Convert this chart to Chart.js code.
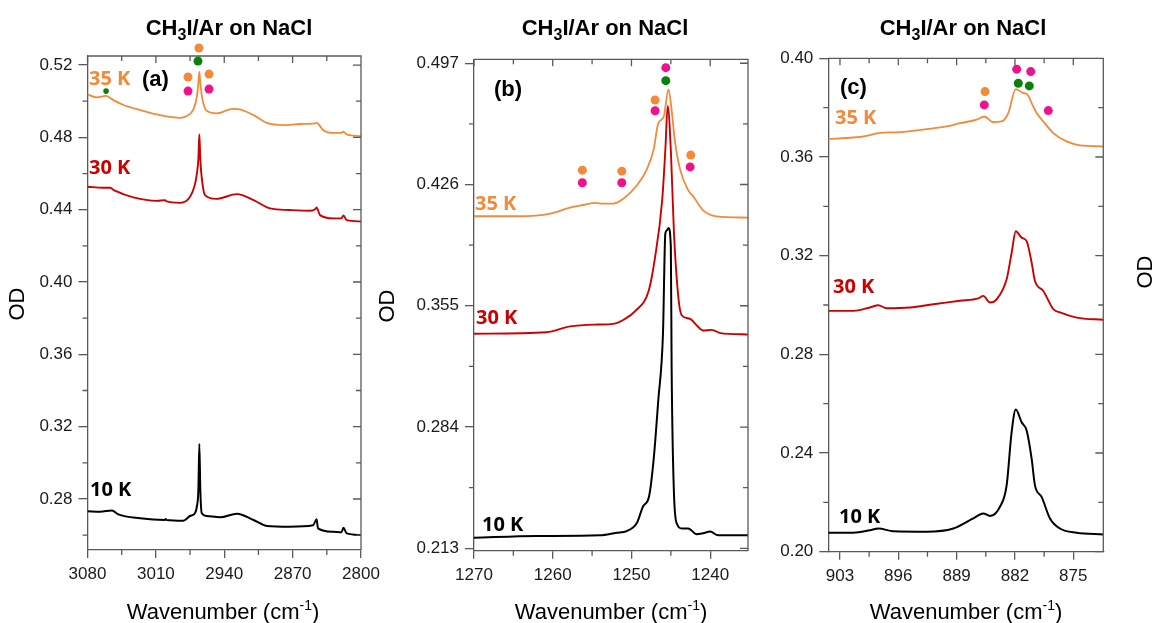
<!DOCTYPE html>
<html><head><meta charset="utf-8">
<script src="https://cdn.jsdelivr.net/npm/chart.js@4.4.1/dist/chart.umd.min.js"></script>
<style>html,body{margin:0;padding:0;background:#fff;width:1157px;height:623px;overflow:hidden}canvas{position:absolute;left:0;top:0}</style>
</head><body>
<script>
// ---------- Panel (a): 3080-2800 cm-1 ----------
const a_xTicks = [3080, 3010, 2940, 2870, 2800];
const a_xMinor = [3045, 2975, 2905, 2835];
const a_yTicks = [0.28, 0.32, 0.36, 0.40, 0.44, 0.48, 0.52];
const a_yMinor = [0.26, 0.30, 0.34, 0.38, 0.42, 0.46, 0.50];
const a35_x = [3080,3070.6,3061,3053.6,3043,3026,3006,2985,2978.5,2972,2968,2966.5,2965.5,2964.5,2962.8,2958.7,2948,2931,2924,2910,2896.5,2879.6,2862.5,2847,2845.5,2838.6,2828.5,2820,2818,2814.6,2800];
const a35_y = [0.5038,0.5021,0.5029,0.5006,0.4979,0.4951,0.4923,0.4908,0.4918,0.4951,0.5025,0.5100,0.5163,0.5100,0.5025,0.4951,0.4933,0.4958,0.4955,0.4923,0.4880,0.4868,0.4874,0.4877,0.4880,0.4840,0.4825,0.4825,0.4831,0.4817,0.4807];
const a30_x = [3080,3064,3057,3052,3033,3009,3000.5,2999.5,2985,2975,2970,2968,2966.5,2965.5,2964.5,2963.5,2961,2959.7,2948,2927,2910,2893,2873,2852,2847,2845.5,2842,2828.5,2820,2818,2814.6,2800];
const a30_y = [0.4527,0.4521,0.4521,0.4505,0.4468,0.4449,0.4453,0.4447,0.4438,0.4471,0.4540,0.4601,0.4680,0.4817,0.4680,0.4601,0.4500,0.4481,0.4460,0.4486,0.4453,0.4407,0.4398,0.4394,0.4402,0.4413,0.4370,0.4352,0.4352,0.4368,0.4342,0.4335];
const a10_x = [3080,3067,3055,3048.5,3026,3001,3000,2999,2982,2975,2970,2968,2966.5,2965.5,2964.5,2963,2958,2944,2927,2910,2896.5,2873,2849,2845.5,2844,2828.5,2820,2818,2814.6,2800];
const a10_y = [0.2732,0.2730,0.2737,0.2715,0.2693,0.2684,0.2690,0.2684,0.2680,0.2706,0.2721,0.2760,0.2850,0.3104,0.2850,0.2721,0.2706,0.2699,0.2719,0.2684,0.2651,0.2647,0.2655,0.2688,0.2638,0.2619,0.2616,0.2641,0.2610,0.2601];
const a_orangeDots = [[2965.9,0.5294],[2977.1,0.5134],[2955.6,0.5150]];
const a_greenDots = [[2966.9,0.5222]];
const a_greenSmall = [[3061,0.5056]];
const a_pinkDots = [[2977.1,0.5056],[2955.6,0.5067]];

// ---------- Panel (b): 1270-1235 cm-1 ----------
const b_xTicks = [1270, 1260, 1250, 1240];
const b_xMinor = [1265, 1255, 1245];
const b_yTicks = [0.213, 0.284, 0.355, 0.426, 0.497];
const b_yMinor = [0.2485, 0.3195, 0.3905, 0.4615];
const b35_x = [1270,1264.2,1260.3,1257.8,1256.1,1254.6,1253.6,1252.3,1251,1249.3,1248.1,1247.2,1246.6,1245.9,1245.3,1244.9,1244.5,1243.8,1242.8,1242.1,1240.9,1239.2,1235.2];
const b35_y = [0.4074,0.4074,0.4090,0.4125,0.4140,0.4152,0.4148,0.4148,0.4178,0.4256,0.4344,0.4461,0.4618,0.4657,0.4817,0.4696,0.4520,0.4344,0.4227,0.4187,0.4109,0.4074,0.4066];
const b30_x = [1270,1260.8,1257.8,1254.4,1252.3,1251,1249.5,1247.8,1247,1246.1,1245.7,1245.4,1245,1244.6,1244,1243.6,1242.6,1241.7,1240.9,1239.8,1238.7,1235.2];
const b30_y = [0.3386,0.3395,0.3429,0.3440,0.3444,0.3468,0.3520,0.3640,0.3835,0.4168,0.4461,0.4720,0.4461,0.3973,0.3580,0.3493,0.3474,0.3434,0.3405,0.3409,0.3390,0.3382];
const b10_x = [1270,1262,1254,1251.9,1250.6,1249.3,1248.5,1247.8,1247.2,1246.6,1246,1245.7,1245.5,1245.3,1245,1244.9,1244.6,1244.2,1243.6,1242.8,1241.7,1240.9,1240,1239,1235.2];
const b10_y = [0.2192,0.2202,0.2206,0.2221,0.2231,0.2280,0.2378,0.2427,0.2642,0.2994,0.3386,0.3973,0.3992,0.4006,0.3894,0.3190,0.2447,0.2271,0.2246,0.2246,0.2212,0.2218,0.2228,0.2206,0.2206];
const b_orangeDots = [[1247.0,0.4755],[1256.24,0.4344],[1251.23,0.4338],[1242.47,0.4432]];
const b_greenDots = [[1245.64,0.4868]];
const b_pinkDots = [[1245.64,0.4944],[1247.0,0.4692],[1256.24,0.4270],[1251.23,0.4270],[1242.55,0.4363]];

// ---------- Panel (c): 904-871 cm-1 ----------
const c_xTicks = [903, 896, 889, 882, 875];
const c_xMinor = [899.5, 892.5, 885.5, 878.5];
const c_yTicks = [0.20, 0.24, 0.28, 0.32, 0.36, 0.40];
const c_yMinor = [0.22, 0.26, 0.30, 0.34, 0.38];
const c35_x = [904.4,901.4,899.8,898.4,895.8,892.6,890.2,888.6,886.6,885.7,884.6,883.6,882.8,881.9,881,880.6,879.8,879.4,878.6,877.4,875.8,874.2,871.4];
const c35_y = [0.3673,0.3679,0.3686,0.3697,0.3701,0.3713,0.3724,0.3737,0.3751,0.3764,0.3741,0.3744,0.3778,0.3875,0.3859,0.3856,0.3804,0.3778,0.3744,0.3697,0.3663,0.3647,0.3643];
const c30_x = [904.4,901.4,899.4,898.4,897.4,894.6,891.8,888.6,886.4,885.8,885,884.2,883,882.4,881.9,881.2,880.6,880,879.6,878.6,877.4,876.6,874.6,871.4];
const c30_y = [0.2976,0.2976,0.2990,0.2999,0.2987,0.2990,0.3003,0.3017,0.3027,0.3037,0.3010,0.3023,0.3104,0.3212,0.3299,0.3273,0.3259,0.3172,0.3097,0.3057,0.2983,0.2970,0.2949,0.2940];
const c10_x = [904.4,901.4,899.4,898.4,896.6,892.6,889.4,887,885.8,885,883.8,883,882.4,881.9,881.2,880.6,880,879.6,878.8,877.8,876.6,874.6,871.4];
const c10_y = [0.2077,0.2077,0.2087,0.2094,0.2083,0.2081,0.2094,0.2135,0.2155,0.2145,0.2182,0.2269,0.2485,0.2576,0.2525,0.2491,0.2377,0.2269,0.2222,0.2135,0.2094,0.2077,0.2070];
const c_orangeDots = [[885.59,0.3865]];
const c_greenDots = [[881.6,0.3899],[880.28,0.3888]];
const c_pinkDots = [[885.68,0.3811],[881.79,0.3956],[880.11,0.3946],[878.0,0.3788]];

const seriesLabels = ['35 K', '30 K', '10 K'];
const panelLetters = ['(a)', '(b)', '(c)'];

// ---------- styling ----------
const W = 1157, H = 623;
const C_ORANGE = '#F28A3A', C_RED = '#CC0000', C_BLACK = '#000000';
const C_PINK = '#F0128C', C_GREEN = '#0A7F0A', AXIS = '#595959';
const SANS = '"Liberation Sans", Arial, sans-serif';
const LBLFONT = '"Open Sans", "Noto Sans", sans-serif';
const YW = 70, XH = 40;

const zip = (xs, ys) => xs.map((x, i) => ({x, y: ys[i]}));

function lineDs(xs, ys, color, w) {
  return {data: zip(xs, ys), showLine: true, borderColor: color, borderWidth: w, pointRadius: 0,
          cubicInterpolationMode: 'monotone', fill: false};
}

function makePanel(p) {
  const cv = document.createElement('canvas');
  cv.width = W; cv.height = H; cv.style.width = W + 'px'; cv.style.height = H + 'px';
  document.body.appendChild(cv);

  const framePlugin = {
    id: 'frame' + p.id,
    afterDraw(chart) {
      const ctx = chart.ctx, a = chart.chartArea, xs = chart.scales.x, ys = chart.scales.y;
      ctx.save();
      ctx.strokeStyle = AXIS; ctx.lineWidth = 1.3;
      ctx.beginPath();
      ctx.moveTo(a.left, a.top); ctx.lineTo(a.right, a.top); ctx.lineTo(a.right, a.bottom);
      p.xTicks.forEach(v => { const x = xs.getPixelForValue(v); ctx.moveTo(x, a.top); ctx.lineTo(x, a.top + 7); });
      p.xMinor.forEach(v => { const x = xs.getPixelForValue(v); ctx.moveTo(x, a.top); ctx.lineTo(x, a.top + 5);
                               ctx.moveTo(x, a.bottom); ctx.lineTo(x, a.bottom + 5); });
      p.yTicks.forEach(v => { const y = ys.getPixelForValue(v); ctx.moveTo(a.right, y); ctx.lineTo(a.right - 8, y); });
      p.yMinor.forEach(v => { const y = ys.getPixelForValue(v); ctx.moveTo(a.right, y); ctx.lineTo(a.right - 5, y);
                               ctx.moveTo(a.left, y); ctx.lineTo(a.left - 5, y); });
      ctx.stroke();

      // annotation dots (placed through the chart's scales)
      p.dots.forEach(d => {
        ctx.fillStyle = d.color;
        d.arr.forEach(pt => {
          ctx.beginPath();
          ctx.arc(xs.getPixelForValue(pt[0]), ys.getPixelForValue(pt[1]), d.r, 0, Math.PI * 2);
          ctx.fill();
        });
      });

      // title
      ctx.fillStyle = '#000'; ctx.textBaseline = 'alphabetic';
      const f1 = 'bold 22px ' + SANS, f2 = 'bold 16px ' + SANS;
      ctx.font = f1; const w1 = ctx.measureText('CH').width, w3 = ctx.measureText('I/Ar on NaCl').width;
      ctx.font = f2; const w2 = ctx.measureText('3').width;
      let tx = p.titleX - (w1 + w2 + w3) / 2; const ty = 35;
      ctx.textAlign = 'left';
      ctx.font = f1; ctx.fillText('CH', tx, ty); tx += w1;
      ctx.font = f2; ctx.fillText('3', tx, ty + 5); tx += w2;
      ctx.font = f1; ctx.fillText('I/Ar on NaCl', tx, ty);

      // x axis title with superscript
      const g1 = '22px ' + SANS, g2 = '14px ' + SANS;
      ctx.font = g1; const u1 = ctx.measureText('Wavenumber (cm').width, u3 = ctx.measureText(')').width;
      ctx.font = g2; const u2 = ctx.measureText('-1').width;
      let ux = p.xTitleX - (u1 + u2 + u3) / 2; const uy = 619;
      ctx.font = g1; ctx.fillText('Wavenumber (cm', ux, uy); ux += u1;
      ctx.font = g2; ctx.fillText('-1', ux, uy - 9); ux += u2;
      ctx.font = g1; ctx.fillText(')', ux, uy);

      // y axis titles
      ctx.font = '22px ' + SANS; ctx.textAlign = 'center'; ctx.textBaseline = 'middle';
      p.odTitles.forEach(o => { ctx.save(); ctx.translate(o[0], o[1]); ctx.rotate(-Math.PI / 2); ctx.fillText('OD', 0, 0); ctx.restore(); });

      // series labels and panel letter
      ctx.textAlign = 'left'; ctx.textBaseline = 'middle';
      p.labels.forEach(l => { ctx.font = l.font; ctx.fillStyle = l.color; ctx.fillText(l.text, l.x, l.y); });
      ctx.restore();
    }
  };

  return new Chart(cv, {
    type: 'scatter',
    data: {datasets: p.datasets},
    options: {
      responsive: false, animation: false, devicePixelRatio: 1, events: [],
      layout: {padding: {left: p.L - YW, top: p.T, right: W - p.R, bottom: H - p.B - XH}},
      plugins: {legend: {display: false}, tooltip: {enabled: false}, title: {display: false}},
      scales: {
        x: {type: 'linear', reverse: true, min: p.xMin, max: p.xMax,
            afterBuildTicks: s => { s.ticks = p.xTicks.map(v => ({value: v})); },
            afterFit: s => { s.height = XH; },
            ticks: {font: {family: SANS, size: 17}, color: '#1a1a1a', padding: 6, maxRotation: 0, autoSkip: false,
                    callback: v => String(v)},
            grid: {drawOnChartArea: false, drawTicks: true, tickLength: 8, color: AXIS, lineWidth: 1.3},
            border: {display: true, color: AXIS, width: 1.3}},
        y: {type: 'linear', min: p.yMin, max: p.yMax,
            afterBuildTicks: s => { s.ticks = p.yTicks.map(v => ({value: v})); },
            afterFit: s => { s.width = YW; },
            ticks: {font: {family: SANS, size: 17}, color: '#1a1a1a', padding: 6, autoSkip: false,
                    callback: v => v.toFixed(p.dec)},
            grid: {drawOnChartArea: false, drawTicks: true, tickLength: 9, color: AXIS, lineWidth: 1.3},
            border: {display: true, color: AXIS, width: 1.3}}
      }
    },
    plugins: [framePlugin]
  });
}

const LB = 'bold 20px ' + LBLFONT, LT = 'bold 22px ' + SANS;

makePanel({id: 'a', L: 87.5, T: 56, R: 361, B: 550, xMin: 2800, xMax: 3080, yMin: 0.2518, yMax: 0.525, dec: 2,
  xTicks: a_xTicks, xMinor: a_xMinor, yTicks: a_yTicks, yMinor: a_yMinor,
  titleX: 229, xTitleX: 223, odTitles: [[18, 304]],
  labels: [{text: seriesLabels[0], x: 89, y: 79, color: C_ORANGE, font: LB},
           {text: panelLetters[0], x: 142, y: 80, color: '#000', font: LT},
           {text: seriesLabels[1], x: 89, y: 168, color: C_RED, font: LB},
           {text: seriesLabels[2], x: 90, y: 490, color: '#000', font: LB}],
  dots: [{arr: a_orangeDots, color: C_ORANGE, r: 4.5}, {arr: a_greenDots, color: C_GREEN, r: 4.5},
         {arr: a_greenSmall, color: C_GREEN, r: 2.8}, {arr: a_pinkDots, color: C_PINK, r: 4.5}],
  datasets: [lineDs(a35_x, a35_y, C_ORANGE, 1.8), lineDs(a30_x, a30_y, C_RED, 1.9), lineDs(a10_x, a10_y, C_BLACK, 2)]});

makePanel({id: 'b', L: 474, T: 59.3, R: 748, B: 550.7, xMin: 1235.2, xMax: 1270, yMin: 0.2116, yMax: 0.4993, dec: 3,
  xTicks: b_xTicks, xMinor: b_xMinor, yTicks: b_yTicks, yMinor: b_yMinor,
  titleX: 605, xTitleX: 611, odTitles: [[388, 306]],
  labels: [{text: panelLetters[1], x: 494, y: 90, color: '#000', font: LT},
           {text: seriesLabels[0], x: 475, y: 204, color: C_ORANGE, font: LB},
           {text: seriesLabels[1], x: 476, y: 318, color: C_RED, font: LB},
           {text: seriesLabels[2], x: 482, y: 525, color: '#000', font: LB}],
  dots: [{arr: b_orangeDots, color: C_ORANGE, r: 4.5}, {arr: b_greenDots, color: C_GREEN, r: 4.5},
         {arr: b_pinkDots, color: C_PINK, r: 4.5}],
  datasets: [lineDs(b35_x, b35_y, C_ORANGE, 1.8), lineDs(b30_x, b30_y, C_RED, 1.9), lineDs(b10_x, b10_y, C_BLACK, 2)]});

makePanel({id: 'c', L: 828.3, T: 58.3, R: 1103.3, B: 551.7, xMin: 871.4, xMax: 904.4, yMin: 0.20, yMax: 0.40, dec: 2,
  xTicks: c_xTicks, xMinor: c_xMinor, yTicks: c_yTicks, yMinor: c_yMinor,
  titleX: 963, xTitleX: 966, odTitles: [[1146, 272]],
  labels: [{text: panelLetters[2], x: 840, y: 88, color: '#000', font: LT},
           {text: seriesLabels[0], x: 835, y: 118, color: C_ORANGE, font: LB},
           {text: seriesLabels[1], x: 833, y: 287, color: C_RED, font: LB},
           {text: seriesLabels[2], x: 839, y: 517, color: '#000', font: LB}],
  dots: [{arr: c_orangeDots, color: C_ORANGE, r: 4.5}, {arr: c_greenDots, color: C_GREEN, r: 4.5},
         {arr: c_pinkDots, color: C_PINK, r: 4.5}],
  datasets: [lineDs(c35_x, c35_y, C_ORANGE, 1.8), lineDs(c30_x, c30_y, C_RED, 1.9), lineDs(c10_x, c10_y, C_BLACK, 2)]});
</script>
</body></html>
